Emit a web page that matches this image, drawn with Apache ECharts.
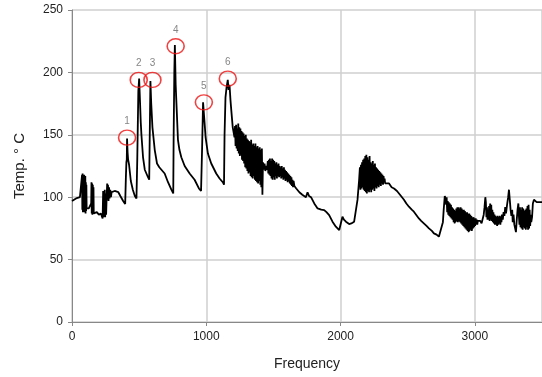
<!DOCTYPE html>
<html>
<head>
<meta charset="utf-8">
<script src="https://cdn.jsdelivr.net/npm/echarts@6/dist/echarts.min.js"></script>
<style>
  html, body { margin: 0; padding: 0; background: #fff; }
  #chart { width: 542px; height: 377px; }
</style>
</head>
<body>
<div id="chart"></div>
<script>
// Trace, split by region: [frequency, temperature]
const lowRange = [
  [0,97],[10,98],[30,99],[59,100],[72,99],[75,118],[77,90],[79,119],[81,88],[83,117],[85,89],[87,116],[89,92],
  [91,118],[93,88],[95,114],[97,90],[99,117],[101,87],[103,112],[105,89],[107,110],[109,91],[115,90],[125,91],
  [135,90],[143,95],[145,112],[147,87],[150,111],[152,86],[155,110],[157,88],[160,108],[162,87],[171,87],[185,88],
  [200,86],[215,87],[228,83],[232,105],[235,84],[238,104],[241,85],[244,106],[247,84],[250,103],[254,86],[258,100],
  [262,111],[265,98],[268,110],[272,97],[276,108],[280,99],[285,106],[290,100],[295,104],[305,104],[318,105],
  [332,106],[345,104],[360,101],[381,97],[396,94.5]
];
const peakRange = [
  [401,115],[405,128],[408,130],[410,147],[414,136],[418,130],[425,126],[431,120],[438,113],[453,106],[468,101],
  [480,99],[486,130],[494,185],[500,195],[506,178],[512,160],[517,150],[529,132],[542,122],[566,116],[575,114],
  [579,150],[584,193],[590,175],[599,156],[616,138],[633,127],[650,124],[666,122],[690,119],[715,112],[740,106],
  [754,103],[757,150],[762,200],[766,222],[772,190],[779,172],[789,146],[800,138],[814,132],[839,125],[876,119],
  [913,114],[945,107],[961,105],[969,140],[976,176],[980,176],[987,160],[995,148],[1012,135],[1037,127],[1074,119],
  [1099,115],[1123,112],[1132,110],[1136,150],[1143,180],[1151,188],[1160,194],[1166,186],[1173,190],[1180,178],
  [1186,170],[1197,156],[1210,148]
];
const noisyBand1 = [
  [1214,157],[1218,141],[1222,158],[1226,139],[1230,155],[1234,137],[1238,159],[1242,135],[1246,156],[1250,133],
  [1254,155],[1258,134],[1262,153],[1266,130],[1270,152],[1274,129],[1278,151],[1282,127],[1286,149],[1290,124],
  [1294,150],[1298,123],[1302,147],[1306,121],[1310,146],[1314,119],[1318,145],[1322,120],[1326,144],[1330,117],
  [1334,146],[1338,116],[1342,142],[1346,115],[1350,143],[1354,117],[1358,141],[1362,114],[1366,143],[1370,113],
  [1374,140],[1378,112],[1382,141],[1386,111],[1390,139],[1394,113],[1398,140],[1402,110],[1406,138],[1410,108],
  [1414,139],[1418,102],[1422,128],[1428,122],[1434,127],[1440,121],[1446,125],[1452,122],[1458,129],[1462,119],
  [1466,130],[1470,118],[1474,131],[1478,117],[1482,129],[1486,115],[1490,131],[1494,114],[1498,130],[1502,116],
  [1506,129],[1510,114],[1514,127],[1518,117],[1522,128],[1526,115],[1530,126],[1534,117],[1538,127],[1542,116],
  [1546,125],[1550,117],[1554,124],[1558,115],[1562,125],[1566,116],[1570,123],[1574,114],[1578,124],[1582,115],
  [1586,122],[1590,113],[1594,121],[1598,114],[1602,120],[1606,112],[1610,119],[1614,113],[1618,118],[1622,111],
  [1626,117],[1630,110],[1634,116],[1638,109],[1642,114],[1646,108],[1650,113],[1656,109],[1663,110]
];
const midRange = [
  [1670,107],[1693,104],[1715,102],[1742,100],[1754,104],[1765,101],[1780,100],[1804,95],[1829,91],[1841,92.5],
  [1856,90],[1878,89.7],[1895,88],[1915,85.7],[1940,80.4],[1965,76.4],[1990,73.7],[1999,73],[2014,84.4],[2025,82],
  [2040,80.4],[2064,78.5],[2080,79],[2101,80.4],[2114,81.7],[2126,97.8],[2138,113.8]
];
const noisyBand2 = [
  [2140,114],[2144,124],[2148,106],[2152,126],[2156,107],[2160,128],[2164,108],[2168,130],[2172,106],[2176,131],
  [2180,105],[2184,133],[2188,104],[2192,134],[2196,103],[2200,132],[2204,105],[2208,130],[2212,104],[2216,133],
  [2220,106],[2224,128],[2228,104],[2232,127],[2236,106],[2240,129],[2244,107],[2248,126],[2252,105],[2256,127],
  [2260,108],[2264,124],[2268,107],[2272,123],[2276,109],[2280,122],[2284,108],[2288,121],[2292,110],[2296,120],
  [2300,109],[2304,119],[2308,111],[2312,118],[2316,110],[2320,117],[2324,112],[2328,115],[2332,111]
];
const slopeRange = [
  [2361,111],[2380,108],[2398,107],[2410,108],[2420,105],[2435,103],[2450,101],[2472,98],[2490,95],[2509,92.4],
  [2530,90],[2546,88.4],[2560,87],[2583,83],[2600,81],[2620,79],[2640,77],[2658,75],[2680,73],[2695,71],
  [2715,70],[2732,68.4],[2745,67]
];
const noisyBand3 = [
  [2762,80],[2768,90],[2776,101],[2782,99],[2786,94],[2790,100],[2794,88],[2798,97],[2802,86],[2806,96],[2810,85],
  [2814,95],[2818,84],[2822,94],[2826,83],[2830,92],[2834,82],[2838,91],[2842,80],[2846,90],[2850,79],[2854,89],
  [2858,80],[2862,91],[2866,81],[2870,92],[2874,80],[2878,92],[2882,81],[2886,91],[2890,80],[2894,92],[2898,79],
  [2902,91],[2906,78],[2910,90],[2914,77],[2918,90],[2922,76],[2926,89],[2930,75],[2934,88],[2938,74],[2942,88],
  [2946,73],[2950,87],[2954,72],[2958,87],[2962,73],[2966,86],[2970,74],[2974,85],[2978,73],[2982,84],[2986,75],
  [2990,84],[2994,76],[2998,83],[3002,77],[3006,83],[3010,78],[3014,82],[3018,78],[3022,81],[3030,80],[3040,81],
  [3050,79],[3058,80],[3066,86],[3072,92],[3078,100],[3082,96],[3086,84],[3090,92],[3094,82],[3098,90],[3102,82],
  [3106,93],[3110,81],[3114,95],[3118,82],[3122,94],[3126,81],[3130,90],[3134,80],[3138,88],[3142,79],[3146,86],
  [3150,78],[3154,85],[3158,78],[3162,84],[3166,77],[3170,85],[3174,78],[3178,84],[3182,79],[3186,85],[3190,78],
  [3194,84],[3198,80],[3202,86],[3208,82],[3214,88],[3220,85],[3226,92],[3232,87],[3240,94],[3248,100],[3254,106],
  [3260,98],[3266,90],[3272,85],[3278,90],[3282,80],[3288,86],[3294,78],[3300,75],[3306,72],[3312,82],[3318,90],
  [3324,95],[3328,85],[3332,78],[3336,92],[3340,76],[3344,90],[3348,75],[3352,92],[3356,74],[3360,91],[3364,76],
  [3368,89],[3372,75],[3376,90],[3380,74],[3384,91],[3388,76],[3392,93],[3396,74],[3400,94],[3404,75],[3408,90],
  [3412,77],[3416,86],[3420,80],[3426,84],[3432,95],[3440,98],[3450,97],[3460,96],[3470,97],[3480,96],[3490,95],
  [3500,96]
];

// Circled peaks and their numbers
const peakLabels = ['1', '2', '3', '4', '5', '6'];
const peakFreq = [410, 497, 599, 772, 982, 1160];
const peakTemp = [147.7, 194, 194, 221, 176, 195];

const xTicks = { min: 0, max: 3500, interval: 1000 };
const yTicks = { min: 0, max: 250, interval: 50 };

const trace = [].concat(lowRange, peakRange, noisyBand1, midRange, noisyBand2, slopeRange, noisyBand3);

const FONT = '"Liberation Sans", Arial, sans-serif';
const chart = echarts.init(document.getElementById('chart'), null, { renderer: 'canvas' });

chart.setOption({
  animation: false,
  backgroundColor: '#fff',
  grid: { left: 72, right: 0, top: 10, bottom: 55, containLabel: false },
  xAxis: {
    type: 'value',
    min: xTicks.min, max: xTicks.max, interval: xTicks.interval,
    name: 'Frequency',
    nameLocation: 'middle',
    nameGap: 35,
    nameTextStyle: { fontFamily: FONT, fontSize: 14, color: '#222' },
    axisLine: { lineStyle: { color: '#888', width: 1 } },
    axisTick: { show: true, length: 4, lineStyle: { color: '#888' } },
    axisLabel: {
      fontFamily: FONT, fontSize: 12, color: '#222', margin: 9, showMaxLabel: false,
      formatter: v => String(v)
    },
    splitLine: { show: true, lineStyle: { color: '#cfcfcf', width: 1.5 } }
  },
  yAxis: {
    type: 'value',
    min: yTicks.min, max: yTicks.max, interval: yTicks.interval,
    name: 'Temp. \u00b0 C',
    nameLocation: 'middle',
    nameGap: 45,
    nameTextStyle: { fontFamily: FONT, fontSize: 15, color: '#222' },
    axisLine: { show: true, lineStyle: { color: '#888', width: 1 } },
    axisTick: { show: true, length: 4, lineStyle: { color: '#888' } },
    axisLabel: { fontFamily: FONT, fontSize: 12, color: '#222', margin: 9 },
    splitLine: { show: true, lineStyle: { color: '#cfcfcf', width: 1.5 } }
  },
  series: [
    {
      type: 'line',
      data: trace,
      showSymbol: false,
      lineStyle: { color: '#000', width: 1.8 },
      z: 2
    },
    {
      type: 'scatter',
      data: peakFreq.map((f, i) => ({ value: [f, peakTemp[i]], name: peakLabels[i] })),
      symbol: 'circle',
      symbolSize: [17, 15],
      itemStyle: { color: 'rgba(0,0,0,0)', borderColor: '#ee1111', borderWidth: 1.5 },
      label: {
        show: true,
        position: 'top',
        distance: 3,
        formatter: p => p.name,
        fontFamily: FONT,
        fontSize: 10,
        color: '#666'
      },
      z: 3
    }
  ]
});
</script>
</body>
</html>
